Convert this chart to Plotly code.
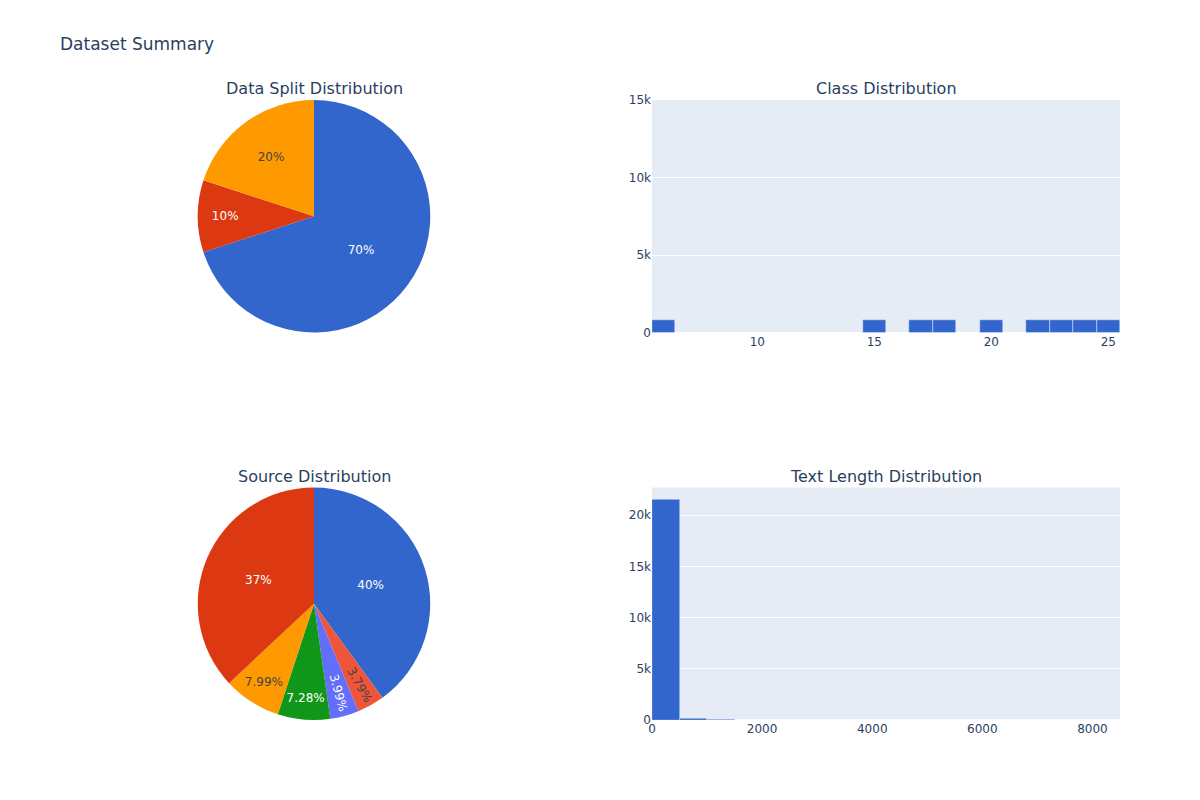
import plotly.graph_objects as go
from plotly.subplots import make_subplots

# Data split
split_labels = ["train", "validation", "test"]
split_values = [15190, 2170, 4340]
split_colors = ["#3366CC", "#DC3912", "#FF9900"]

# Class distribution
class_ids = [6, 15, 17, 18, 20, 22, 23, 24, 25]
class_counts = [800, 800, 800, 800, 800, 800, 800, 800, 800]

# Source distribution
source_labels = ["source_a", "source_f", "source_e", "source_d", "source_c", "source_b"]
source_values = [8675, 823, 866, 1580, 1734, 8022]
source_colors = ["#3366CC", "#EF553B", "#636EFA", "#109618", "#FF9900", "#DC3912"]

# Text length histogram (bin starts, width 500)
len_bin_starts = [0, 500, 1000, 1500, 2000, 2500, 3000, 3500, 4000, 4500,
                  5000, 5500, 6000, 6500, 7000, 7500, 8000]
len_counts = [21560, 140, 60, 0, 0, 0, 0, 0, 0, 0, 0, 0, 0, 0, 0, 0, 0]
bin_width = 500

fig = make_subplots(
    rows=2, cols=2,
    specs=[[{"type": "domain"}, {"type": "xy"}],
           [{"type": "domain"}, {"type": "xy"}]],
    subplot_titles=["Data Split Distribution", "Class Distribution",
                    "Source Distribution", "Text Length Distribution"],
    vertical_spacing=0.25,
)

fig.add_trace(go.Pie(labels=split_labels, values=split_values, sort=False,
                     direction="clockwise", textinfo="percent",
                     marker=dict(colors=split_colors)), row=1, col=1)

fig.add_trace(go.Bar(x=class_ids, y=class_counts, width=1,
                     marker=dict(color="#3366CC")), row=1, col=2)

fig.add_trace(go.Pie(labels=source_labels, values=source_values, sort=False,
                     direction="clockwise", textinfo="percent",
                     marker=dict(colors=source_colors)), row=2, col=1)

fig.add_trace(go.Bar(x=[s + bin_width / 2 for s in len_bin_starts], y=len_counts,
                     width=bin_width, marker=dict(color="#3366CC")), row=2, col=2)

fig.update_yaxes(range=[0, 15000], row=1, col=2)
fig.update_xaxes(range=[5.5, 25.5], row=1, col=2)
fig.update_xaxes(range=[0, 8500], row=2, col=2)

fig.update_layout(
    title=dict(text="Dataset Summary"),
    font=dict(family="Verdana, DejaVu Sans, sans-serif"),
    showlegend=False,
    width=1200, height=800,
    bargap=0,
)

fig.write_html("out.html")
